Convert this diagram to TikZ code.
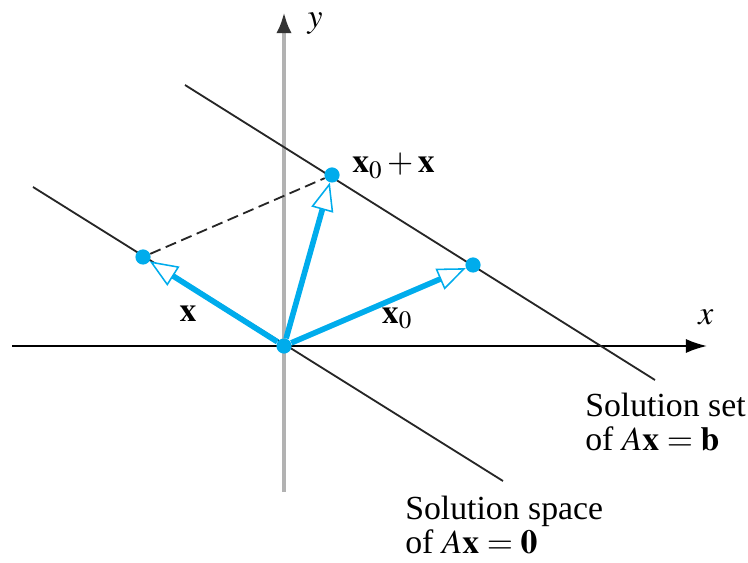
\documentclass[tikz,border=0pt]{standalone}
\usepackage{mathptmx}
\usepackage{fontspec}
\setmainfont{Liberation Serif}
\usetikzlibrary{arrows.meta, positioning}
\definecolor{vecblue}{RGB}{0,172,236}

\begin{document}
\begin{tikzpicture}[x=0.025cm, y=-0.025cm,
  font=\fontsize{24}{24}\selectfont,
  thinline/.style={line width=1.3pt, black!85},
  vec/.style={line width=4pt, vecblue, -{Triangle[open, fill=white, length=20pt, width=16pt, line width=1.1pt]}},
  dot/.style={circle, fill=vecblue, inner sep=0pt, minimum size=0.38cm}]
  \useasboundingbox (0,0) rectangle (748,563);

  % Axes
  \coordinate (xl) at (12,346);
  \coordinate (xr) at (707,346);
  \coordinate (yb) at (284,492);
  \coordinate (yt) at (284,12);
  \draw[line width=1.3pt, -{Latex[length=15pt, width=10pt]}] (xl) -- (xr);
  \draw[line width=3pt, gray!60, -{Latex[black!80, length=15pt, width=11pt]}] (yb) -- (yt);
  \node (ylbl) at (315,24) {$y$};
  \node (xlbl) at (706,317) {$x$};

  % Solution space (through origin) and solution set
  \coordinate (sp1) at (33,187);
  \coordinate (sp2) at (503,481);
  \coordinate (ss1) at (185,85);
  \coordinate (ss2) at (655,380);
  \draw[thinline] (sp1) -- (sp2);
  \draw[thinline] (ss1) -- (ss2);

  % Points
  \node[dot] (O) at (284,346) {};
  \node[dot] (X) at (143,257) {};
  \node[dot] (X0) at (473,265) {};
  \node[dot] (S) at (332,175) {};

  % Dashed completion of the parallelogram
  \draw[thinline, dash pattern=on 8pt off 4pt] (X) -- (S);

  % Vectors
  \draw[vec] (O) -- (X);
  \draw[vec] (O) -- (X0);
  \draw[vec] (O) -- (S);

  % Vector labels
  \node (xlab) at (188,314) {$\mathbf{x}$};
  \node (x0lab) at (397,318) {$\mathbf{x}_0$};
  \node[anchor=base west, inner sep=0pt] (slab) at (352,173) {$\mathbf{x}_0 + \mathbf{x}$};

  % Captions
  \node[anchor=base west, align=left, inner sep=0pt] (setlab) at (585,450)
    {Solution set\\of $A\mathbf{x} = \mathbf{b}$};
  \node[anchor=base west, align=left, inner sep=0pt] (spacelab) at (405,553)
    {Solution space\\of $A\mathbf{x} = \mathbf{0}$};
\end{tikzpicture}
\end{document}
